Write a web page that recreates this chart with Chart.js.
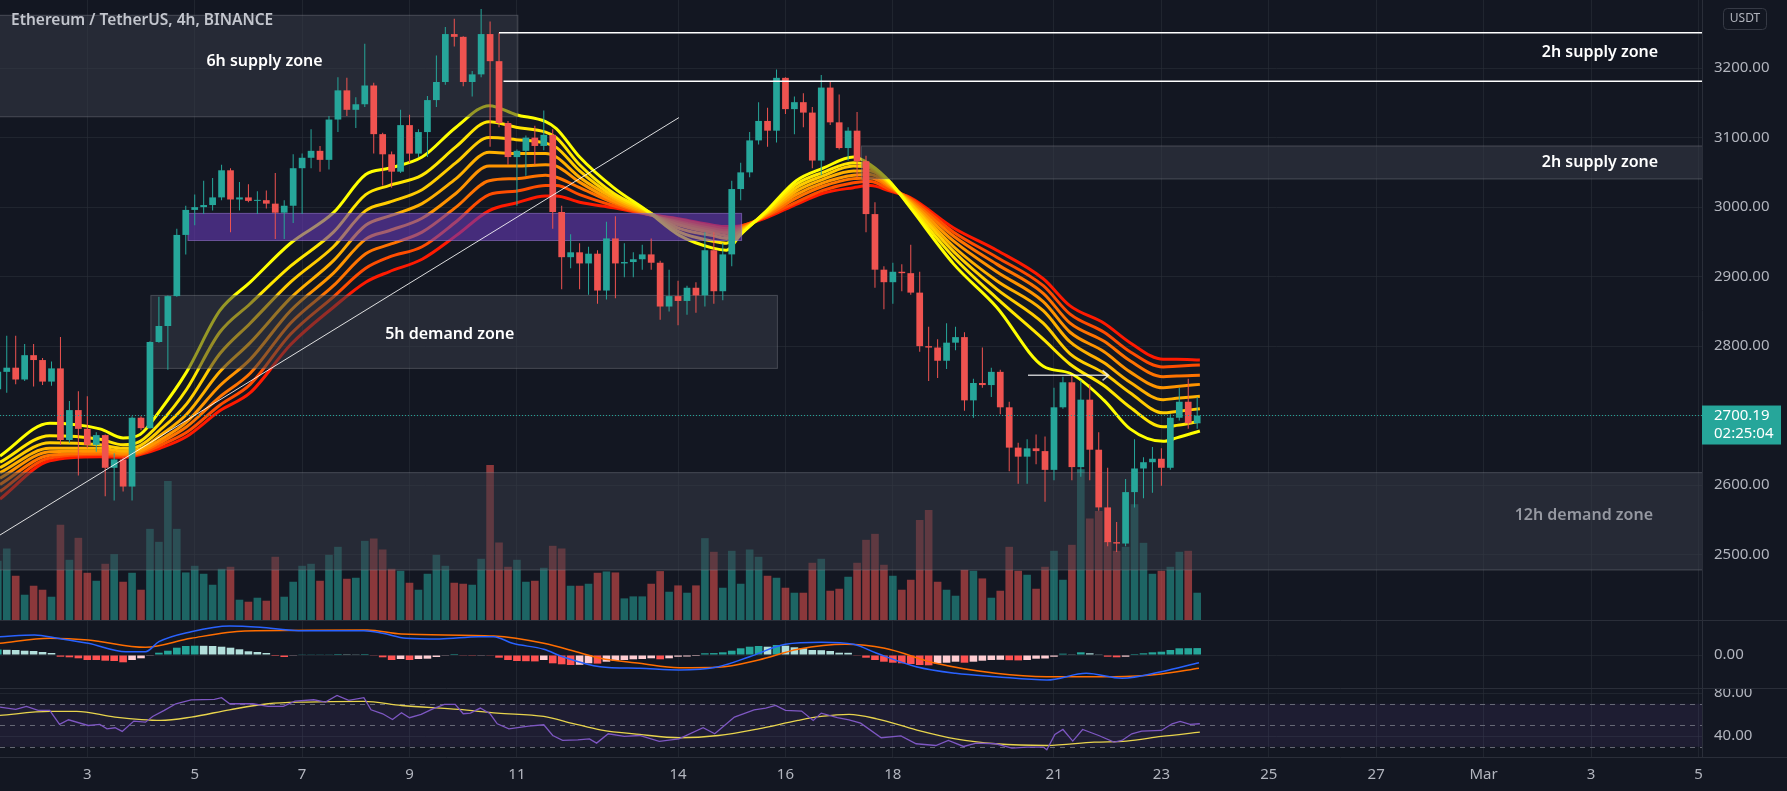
<!DOCTYPE html>
<html lang="en">
<head>
<meta charset="UTF-8">
<title>Ethereum / TetherUS, 4h, BINANCE</title>
<script src="https://cdn.jsdelivr.net/npm/chart.js"></script>
<style>
    body {
        margin: 0;
        background-color: #131722;
        overflow: hidden;
    }
    canvas {
        display: block;
    }
</style>
</head>
<body>
<canvas id="mainChart" width="1787" height="620"></canvas>
<canvas id="macdChart" width="1787" height="68"></canvas>
<canvas id="rsiChart" width="1787" height="103"></canvas>

<script>
// ---------- data (x = 4h candle index, 0 = Feb 1 00:00) ----------
const firstCandle = 2;

const tickDays = [3, 5, 7, 9, 11, 14, 16, 18, 21, 23, 25, 27, 29, 31, 33];
const tickLabels = ['3', '5', '7', '9', '11', '14', '16', '18', '21', '23', '25', '27', 'Mar', '3', '5'];
const priceTicks = [2500, 2600, 2700, 2800, 2900, 3000, 3100, 3200];
const macdTicks = [0];
const rsiTicks = [40, 80];

const opens = [2738,2763,2769,2752,2787,2780,2749,2768,2665,2708,
    2681,2658,2672,2625,2637,2598,2697,2682,2806,2829,
    2872,2960,2996,3000,3003,3014,3053,3011,3014,3009,
    3010,3005,2992,3002,3056,3071,3081,3068,3126,3168,
    3140,3148,3175,3105,3076,3051,3118,3077,3108,3154,
    3180,3249,3245,3180,3191,3249,3210,3121,3072,3081,
    3100,3088,3104,2993,2928,2935,2919,2933,2880,2955,
    2919,2921,2925,2932,2920,2857,2872,2865,2884,2873,
    2938,2879,2932,3026,3050,3096,3124,3110,3186,3141,
    3151,3136,3067,3172,3122,3085,3110,3066,2990,2910,
    2892,2907,2905,2877,2800,2798,2779,2805,2813,2722,
    2747,2744,2763,2712,2654,2641,2653,2649,2622,2712,
    2748,2626,2723,2651,2568,2518,2516,2590,2624,2633,
    2638,2625,2697,2720,2689];
const highs = [2768,2815,2815,2803,2803,2783,2778,2813,2721,2735,
    2728,2676,2673,2646,2640,2699,2699,2807,2871,2873,
    2969,3002,3018,3038,3042,3061,3056,3036,3033,3023,
    3024,3049,3010,3076,3077,3112,3088,3131,3187,3186,
    3158,3235,3179,3107,3080,3140,3133,3112,3160,3218,
    3259,3271,3246,3196,3285,3267,3251,3124,3083,3103,
    3117,3139,3112,3002,2961,2948,2943,2938,2979,2987,
    2948,2935,2946,2955,2923,2910,2894,2887,2892,2964,
    2964,2948,3038,3064,3108,3151,3143,3198,3187,3159,
    3164,3144,3190,3180,3162,3115,3137,3074,3007,2915,
    2920,2918,2946,2907,2828,2810,2833,2828,2820,2753,
    2798,2769,2766,2720,2661,2666,2673,2670,2740,2756,
    2758,2751,2745,2676,2625,2547,2609,2666,2640,2655,
    2653,2702,2740,2753,2727];
const lows = [2730,2733,2745,2750,2742,2744,2743,2658,2661,2614,
    2653,2648,2584,2578,2591,2578,2679,2681,2805,2766,
    2871,2932,2974,2990,2995,3010,2964,2995,3007,2990,
    2998,2954,2954,2977,2990,3056,3051,3054,3108,3131,
    3114,3144,3077,3031,3028,3049,3064,3072,3072,3144,
    3176,3231,3174,3159,3187,3087,3115,3061,3002,3045,
    3061,3082,2969,2882,2912,2882,2874,2861,2867,2869,
    2899,2899,2910,2910,2838,2850,2830,2845,2848,2857,
    2861,2866,2915,3010,3043,3090,3087,3093,3134,3105,
    3115,3056,3046,3118,3083,3067,3043,2964,2884,2853,
    2861,2879,2874,2792,2750,2754,2767,2794,2707,2697,
    2740,2727,2702,2620,2602,2602,2630,2576,2607,2710,
    2607,2612,2607,2563,2512,2504,2512,2568,2581,2589,
    2599,2622,2693,2681,2681];
const closes = [2763,2769,2752,2787,2780,2749,2768,2665,2708,2681,
    2658,2672,2625,2637,2598,2697,2682,2806,2829,2872,
    2960,2996,3000,3003,3014,3053,3011,3014,3009,3010,
    3005,2992,3002,3056,3071,3081,3068,3126,3168,3140,
    3148,3175,3105,3076,3051,3118,3077,3108,3154,3180,
    3249,3245,3180,3191,3249,3210,3121,3072,3081,3100,
    3088,3104,2993,2928,2935,2919,2933,2880,2955,2919,
    2921,2925,2932,2920,2857,2872,2865,2884,2873,2938,
    2879,2932,3026,3050,3096,3124,3110,3186,3141,3151,
    3136,3067,3172,3122,3085,3110,3066,2990,2910,2892,
    2907,2905,2877,2800,2798,2779,2805,2813,2722,2747,
    2744,2763,2712,2654,2641,2653,2649,2622,2712,2748,
    2626,2723,2651,2568,2518,2516,2590,2624,2633,2638,
    2625,2697,2720,2689,2700.19];
const volumes = [178,215,133,76,103,91,70,286,181,247,
    142,118,169,198,115,142,91,274,235,418,
    274,143,163,139,106,154,160,61,55,67,
    58,190,70,115,163,169,118,196,220,124,
    127,238,245,212,154,148,112,91,139,196,
    163,112,109,106,184,466,233,160,181,115,
    118,157,223,215,103,103,109,142,146,143,
    65,71,71,109,147,85,104,82,104,246,
    205,97,208,109,212,190,133,127,97,82,
    82,172,184,88,94,130,172,241,259,166,
    133,91,121,301,331,115,91,73,151,148,
    125,67,88,220,148,136,94,160,208,121,
    226,453,305,328,238,208,220,348,232,139,
    148,160,205,208,82];

// EMA ribbon, fastest (1) to slowest (8), read at these candle positions
const ribbonX = [2.25,7.8,13.4,16,17.9,20.1,23.1,26.8,30.2,34.7,39.5,43.1,45.7,49.4,53.2,56.9,59.9,63.2,64.4,67,
    70.8,74.5,78.2,81.9,83.4,84.9,87.9,91.2,94.2,97.6,99.5,101.7,103.9,108.8,113.6,118.8,121.8,125.6,128.5,132.2,133.7,136.3];
const ribbon1 = [2642,2689,2681,2668,2673,2707,2763,2851,2892,2948,2992,3047,3056,3072,3115,3146,3133,3123,3113,3072,3028,2995,2959,2941,2938,2959,2995,3038,3056,3072,3061,3036,3000,2918,2856,2771,2761,2722,2681,2663,2668,2678];
const ribbon2 = [2633,2671,2666,2658,2663,2689,2738,2820,2861,2915,2964,3018,3031,3046,3087,3123,3115,3108,3100,3061,3020,2995,2964,2951,2948,2961,2994,3033,3050,3064,3059,3035,3002,2928,2869,2810,2774,2743,2712,2684,2686,2692];
const ribbon3 = [2625,2661,2658,2653,2657,2679,2717,2789,2833,2892,2943,2995,3007,3025,3064,3100,3097,3092,3086,3052,3016,2994,2969,2959,2955,2964,2992,3028,3045,3059,3056,3033,3005,2936,2882,2833,2789,2761,2733,2704,2706,2710];
const ribbon4 = [2618,2653,2653,2649,2652,2671,2702,2763,2805,2869,2923,2974,2987,3005,3041,3079,3077,3077,3072,3043,3013,2992,2974,2963,2959,2966,2991,3023,3040,3052,3052,3032,3007,2943,2894,2851,2806,2776,2748,2723,2725,2728];
const ribbon5 = [2610,2648,2649,2646,2649,2665,2691,2743,2781,2851,2905,2954,2966,2984,3020,3059,3059,3061,3059,3036,3009,2991,2977,2966,2963,2968,2990,3018,3035,3046,3047,3030,3009,2951,2907,2864,2820,2792,2763,2740,2742,2745];
const ribbon6 = [2601,2643,2646,2644,2647,2661,2684,2727,2761,2833,2887,2933,2946,2964,3000,3038,3041,3046,3043,3028,3006,2990,2979,2969,2966,2970,2988,3013,3030,3041,3042,3028,3011,2958,2918,2876,2833,2807,2779,2756,2757,2758];
const ribbon7 = [2591,2639,2644,2642,2645,2657,2676,2715,2745,2817,2871,2912,2928,2943,2979,3018,3023,3031,3031,3018,3002,2990,2982,2972,2969,2972,2987,3007,3024,3035,3037,3025,3013,2964,2928,2887,2846,2820,2792,2770,2771,2773];
const ribbon8 = [2580,2635,2641,2640,2644,2653,2670,2707,2733,2802,2856,2892,2907,2925,2959,2995,3006,3016,3016,3007,2999,2990,2983,2974,2972,2973,2985,3004,3020,3028,3031,3023,3014,2970,2938,2897,2858,2833,2805,2781,2781,2780];

// MACD pane
const macdHist = [5.5,5.2,5,4.3,4,3,2,-1.7,-2.3,-3.3,
    -5,-5,-5.7,-6,-7.3,-5,-3.3,-0.7,2.3,4.3,
    7.3,9,9.3,9.2,9,8.3,7.3,5.7,3.7,3,
    2,-1,-2,-0.3,0.3,0.3,0.3,0.3,1,0.8,
    0.7,1,-0.7,-2.3,-5,-4,-5,-4,-3.7,-2,
    -0.3,1,-0.7,-0.8,-0.3,-0.7,-2.7,-5,-6,-6.2,
    -6.4,-5,-8.3,-9.3,-10,-9.8,-8.3,-8.6,-6.7,-5.7,
    -5,-4.3,-4,-3.3,-4.3,-3.3,-1.7,-1.5,-1,1.7,
    1.9,2.7,4.3,6.7,8.3,9,8.3,10,9.3,7.7,
    6.7,5,4.8,4,2.3,2.2,-0.7,-2.7,-5,-6.7,
    -7.7,-8.3,-9,-10,-10.3,-8.3,-7.7,-6.7,-7.7,-6.7,
    -5.7,-5,-4.8,-5.2,-5.4,-5,-3.7,-3.5,-1.7,1.3,
    0.7,2.7,1.7,0.7,-1.7,-2.3,-1.7,1,1.7,2.7,
    3.3,5,6.7,6.8,6.9];
const macdX = [2.2,6.1,8.7,12.1,16.3,18.5,20,23.6,27.9,31.3,35.6,42.9,45,47.6,51.4,55.7,57.4,59.5,63,65.1,
    69.3,73.7,78.1,82.5,86,90,94,97.6,100.2,104.6,109,113.5,119.2,123.6,127.6,132,136.2];
const macdLine = [18.3,20,16.7,11.7,3.3,3.3,13.3,23.3,29,27.7,24.3,24.3,21.7,16.7,16,18.3,18.3,11.7,5.7,-1.7,
    -11.7,-13.3,-15,-11.7,-1.7,10.7,12.7,10.7,1.7,-11.7,-18.3,-21.7,-25,-18.3,-23.3,-16.7,-7.7];
const signalX = [2.2,7.8,12.1,18.5,23.6,29.6,43.3,47.1,57.4,63,67.2,69.3,73.7,78.1,82.5,87,91.4,96.7,101.1,106.8,
    113.5,119.2,126.7,132,136.2];
const signalLine = [11.7,16.7,15,7.7,16.7,24,25,21,19,11.7,1.7,-3.3,-8.3,-12.7,-12.3,-5,5.7,10.7,6.7,-8.3,
    -18.3,-21.7,-21.7,-19,-13.3];

// RSI pane
const rsiX = [2.2,4,5.2,6.5,7.8,8.9,9.9,12.1,13.4,14.2,15.1,15.9,17.2,18.5,19.3,20.6,21.9,23.6,26.2,27,
    27.9,30.5,32.2,33.9,35.2,37.3,38.6,39.9,41.2,42.9,43.7,45,46.1,47.1,48,49.3,50.6,51.9,53.1,54,
    54.8,55.9,57,57.8,59.1,61.3,63,64,65.1,66.8,68.1,68.9,70.2,72,73.7,75.9,78.1,80.8,82.1,84.3,
    86.5,87.8,88.9,90,91.8,93.1,94,95.8,97.1,98.4,100.7,102.9,104.6,106.8,108.2,109.9,111.3,113.5,115.3,117,
    118.8,119.2,120.1,121,122.1,123.2,125,126.7,127.6,128.7,129.8,132,133.2,134.1,135.2,136.3];
const rsiValues = [66.9,64.7,67.5,63.8,63.8,50.8,55.1,49.8,50.8,46.7,47.7,44.3,53.9,52.9,58.2,63.8,70,73.7,74,75.6,
    70,70,67.5,67.5,72.5,73.7,71.6,77.8,73.1,75.6,64.4,60.7,55.4,61.6,57,60.1,65.3,69.4,69.4,60.7,
    61.3,66,60.7,51.4,46.7,49.2,50.5,40.5,35.9,36.5,37.4,33.4,42.1,39.6,40.5,35,37.4,47.7,42.1,57.6,
    64.4,66,68.4,63.8,63.2,54.5,61.3,57,55.1,52,38.4,40.2,32.8,31.2,35.9,30.3,33.4,32.8,28.8,29.7,
    29.7,27.2,41.5,46.1,35.3,46.1,40.5,34.3,35.9,42.1,44.6,45.2,51.4,53.6,50.8,51.4];
const rsiMaX = [2.2,7.8,10.8,15.1,20.2,23.6,27.9,32.2,36.4,42.9,47.1,53.5,57.8,63,66.4,69.3,73.7,78.1,82.5,87,
    91.4,94,97.1,100.2,104.6,109,113.5,119.2,124.5,128.1,132,136.3];
const rsiMa = [59.1,62.9,62.9,57.6,54.5,57.6,64.4,70,71.6,72.2,68.4,64.7,61.3,58.2,51.4,45.8,41.5,38.4,40.5,46.7,
    54.5,58.2,60.1,56,45.8,37.4,32.8,31.2,34.3,35.3,39.6,43.6];

// Drawn zones: [start index, end index], [top price, bottom price]
const zoneLabels = ['6h supply zone', '5h demand zone', '2h supply zone', '12h demand zone'];
const zoneStart = [-5, 19.1, 98.5, -5];
const zoneEnd = [60.1, 89.1, 200, 200];
const zoneTop = [3276, 2873, 3088, 2618];
const zoneBottom = [3130, 2768, 3040.5, 2478];
const zoneLabelX = [31.8, 52.5, 181, 179.2];
const zoneLabelY = [3210, 2817, 3065, 2556];

const flipZone = [23.25, 85.1, 2991, 2952];           // start, end, top, bottom
const supplyLineY = [3251, 3181];
const supplyLineStart = [58.0, 58.5];
const supplyLabel = ['2h supply zone', 181, 3222];
const trendX = [-6, 78.1];
const trendY = [2463, 3128.8];
const arrowX = [117.1, 126.1];
const arrowY = 2758;

// ---------- styling ----------
const viewStart = 2.246, viewEnd = 192.4;
const UP = '#26a69a', DOWN = '#ef5350';
const gridColor = 'rgba(42, 46, 57, 0.6)';
const textColor = '#b2b5be';
const fontFamily = "'Noto Sans', sans-serif";
const axisFont = { family: fontFamily, size: 15 };
const ribbonColors = ['#ffff00', '#ffe600', '#ffcc00', '#ffb000', '#ff9400', '#ff7300', '#ff4d00', '#ff1a00'];
const ribbons = [ribbon1, ribbon2, ribbon3, ribbon4, ribbon5, ribbon6, ribbon7, ribbon8];
const tickIndex = tickDays.map(d => (d - 1) * 6);
const candleX = opens.map((_, k) => firstCandle + k);
const isUp = k => closes[k] >= opens[k];

Chart.defaults.font.family = fontFamily;
Chart.defaults.animation = false;

function xScale(showLabels) {
    return {
        type: 'linear',
        min: viewStart,
        max: viewEnd,
        offset: false,
        grid: { color: gridColor, drawTicks: false, offset: false },
        border: { display: false },
        ticks: {
            display: showLabels,
            color: textColor,
            font: axisFont,
            padding: 9,
            maxRotation: 0,
            autoSkip: false,
            callback: (v, i) => tickLabels[i]
        },
        afterBuildTicks: s => { s.ticks = tickIndex.map(v => ({ value: v })); },
        afterFit: s => {
            s.paddingLeft = 0;
            s.paddingRight = 0;
            s.height = showLabels ? 34 : 0;
        }
    };
}

function yScale(min, max, ticks) {
    return {
        position: 'right',
        min: min,
        max: max,
        grid: { color: gridColor, drawTicks: false },
        border: { color: '#2a2e39' },
        ticks: { color: textColor, font: axisFont, padding: 12, callback: v => v.toFixed(2) },
        afterBuildTicks: s => { s.ticks = ticks.map(v => ({ value: v })); },
        afterFit: s => {
            s.width = 85;
            s.paddingTop = 0;
            s.paddingBottom = 0;
        }
    };
}

const baseOptions = {
    responsive: false,
    devicePixelRatio: 1,
    animation: false,
    layout: { padding: 0 },
    plugins: { legend: { display: false }, tooltip: { enabled: false } }
};

function paneBorder(chart) {
    const ctx = chart.ctx;
    ctx.save();
    ctx.strokeStyle = '#2a2e39';
    ctx.lineWidth = 1;
    ctx.beginPath();
    ctx.moveTo(0, 0.5);
    ctx.lineTo(chart.width, 0.5);
    ctx.stroke();
    ctx.restore();
}

// ---------- main pane ----------
function drawZones(chart) {
    const { ctx, chartArea: a, scales: { x, y } } = chart;
    ctx.save();
    ctx.beginPath();
    ctx.rect(a.left, a.top, a.width, a.height);
    ctx.clip();

    zoneStart.forEach((s, k) => {
        const x0 = x.getPixelForValue(s), x1 = x.getPixelForValue(zoneEnd[k]);
        const y0 = y.getPixelForValue(zoneTop[k]), y1 = y.getPixelForValue(zoneBottom[k]);
        ctx.fillStyle = 'rgba(57, 61, 72, 0.53)';
        ctx.fillRect(x0, y0, x1 - x0, y1 - y0);
        ctx.strokeStyle = 'rgba(149, 152, 161, 0.35)';
        ctx.lineWidth = 1;
        ctx.strokeRect(x0, y0, x1 - x0, y1 - y0);
    });

    const fx0 = x.getPixelForValue(flipZone[0]), fx1 = x.getPixelForValue(flipZone[1]);
    const fy0 = y.getPixelForValue(flipZone[2]), fy1 = y.getPixelForValue(flipZone[3]);
    ctx.fillStyle = 'rgba(103, 58, 183, 0.6)';
    ctx.fillRect(fx0, fy0, fx1 - fx0, fy1 - fy0);
    ctx.strokeStyle = 'rgba(149, 117, 205, 0.6)';
    ctx.strokeRect(fx0, fy0, fx1 - fx0, fy1 - fy0);
    ctx.restore();
}

function drawAnnotations(chart) {
    const { ctx, chartArea: a, scales: { x, y } } = chart;
    ctx.save();
    ctx.beginPath();
    ctx.rect(a.left, a.top, a.width, a.height);
    ctx.clip();

    // last price line
    const lastY = y.getPixelForValue(closes[closes.length - 1]);
    ctx.strokeStyle = UP;
    ctx.lineWidth = 1;
    ctx.setLineDash([1, 2]);
    ctx.beginPath();
    ctx.moveTo(a.left, lastY);
    ctx.lineTo(a.right, lastY);
    ctx.stroke();
    ctx.setLineDash([]);

    // trend line
    ctx.strokeStyle = 'rgba(255, 255, 255, 0.85)';
    ctx.beginPath();
    ctx.moveTo(x.getPixelForValue(trendX[0]), y.getPixelForValue(trendY[0]));
    ctx.lineTo(x.getPixelForValue(trendX[1]), y.getPixelForValue(trendY[1]));
    ctx.stroke();

    // upper 2h supply lines
    ctx.strokeStyle = '#ffffff';
    ctx.lineWidth = 1.5;
    supplyLineY.forEach((p, k) => {
        const yy = y.getPixelForValue(p);
        ctx.beginPath();
        ctx.moveTo(x.getPixelForValue(supplyLineStart[k]), yy);
        ctx.lineTo(a.right, yy);
        ctx.stroke();
    });

    // arrow
    const ax0 = x.getPixelForValue(arrowX[0]), ax1 = x.getPixelForValue(arrowX[1]);
    const ay = y.getPixelForValue(arrowY);
    ctx.strokeStyle = 'rgba(255, 255, 255, 0.75)';
    ctx.lineWidth = 1.5;
    ctx.beginPath();
    ctx.moveTo(ax0, ay);
    ctx.lineTo(ax1, ay);
    ctx.moveTo(ax1 - 6, ay - 5);
    ctx.lineTo(ax1, ay);
    ctx.lineTo(ax1 - 6, ay + 5);
    ctx.stroke();

    // labels
    ctx.font = `600 16px ${fontFamily}`;
    ctx.textAlign = 'center';
    ctx.textBaseline = 'middle';
    zoneLabels.forEach((t, k) => {
        ctx.fillStyle = t.startsWith('12h') ? '#9598a1' : '#ffffff';
        ctx.fillText(t, x.getPixelForValue(zoneLabelX[k]), y.getPixelForValue(zoneLabelY[k]));
    });
    ctx.fillStyle = '#ffffff';
    ctx.fillText(supplyLabel[0], x.getPixelForValue(supplyLabel[1]), y.getPixelForValue(supplyLabel[2]));
    ctx.restore();
}

function drawPriceTag(chart) {
    const { ctx, chartArea: a, scales: { y } } = chart;
    const last = closes[closes.length - 1];
    const py = y.getPixelForValue(last);
    ctx.save();
    ctx.fillStyle = UP;
    ctx.fillRect(a.right, py - 10, 79, 39);
    ctx.fillStyle = '#ffffff';
    ctx.font = `15px ${fontFamily}`;
    ctx.textAlign = 'left';
    ctx.textBaseline = 'middle';
    ctx.fillText(last.toFixed(2), a.right + 12, py);
    ctx.fillText('02:25:04', a.right + 12, py + 18);

    // title
    ctx.fillStyle = '#c3c6ce';
    ctx.font = `600 15.5px ${fontFamily}`;
    ctx.fillText('Ethereum / TetherUS, 4h, BINANCE', 11, 21);

    // currency box
    ctx.strokeStyle = '#363a45';
    ctx.lineWidth = 1;
    ctx.beginPath();
    ctx.roundRect(1723.5, 8.5, 43, 21, 4);
    ctx.stroke();
    ctx.fillStyle = textColor;
    ctx.font = `12px ${fontFamily}`;
    ctx.textAlign = 'center';
    ctx.fillText('USDT', 1745, 19);
    ctx.restore();
}

const WICK_DATASET = 1 + ribbons.length;

const mainOverlay = {
    id: 'mainOverlay',
    beforeDatasetDraw(chart, args) {
        if (args.index === WICK_DATASET) drawZones(chart);
    },
    afterDatasetsDraw(chart) {
        drawAnnotations(chart);
    },
    afterDraw(chart) {
        drawPriceTag(chart);
    }
};

const mainDatasets = [
    {
        type: 'bar',
        label: 'Volume',
        data: volumes.map((v, k) => ({ x: candleX[k], y: v })),
        yAxisID: 'yVol',
        grouped: false,
        order: 10,
        categoryPercentage: 0.85,
        barPercentage: 1,
        backgroundColor: c => isUp(c.dataIndex) ? 'rgba(38, 166, 154, 0.55)' : 'rgba(239, 83, 80, 0.55)'
    },
    ...ribbons.map((r, n) => ({
        type: 'line',
        label: 'EMA ' + (n + 1),
        data: r.map((v, k) => ({ x: ribbonX[k], y: v })),
        yAxisID: 'y',
        order: 5,
        borderColor: ribbonColors[n],
        borderWidth: 3,
        pointRadius: 0,
        cubicInterpolationMode: 'monotone',
        borderJoinStyle: 'round'
    })),
    {
        type: 'bar',
        label: 'Wick',
        data: highs.map((h, k) => ({ x: candleX[k], y: [lows[k], h] })),
        yAxisID: 'y',
        grouped: false,
        order: 1,
        categoryPercentage: 0.2,
        barPercentage: 1,
        maxBarThickness: 1,
        backgroundColor: c => isUp(c.dataIndex) ? UP : DOWN
    },
    {
        type: 'bar',
        label: 'Body',
        data: opens.map((o, k) => ({ x: candleX[k], y: [o, closes[k]] })),
        yAxisID: 'y',
        grouped: false,
        order: 0,
        categoryPercentage: 0.75,
        barPercentage: 1,
        minBarLength: 1,
        backgroundColor: c => isUp(c.dataIndex) ? UP : DOWN
    }
];

new Chart(document.getElementById('mainChart'), {
    type: 'bar',
    data: { datasets: mainDatasets },
    options: {
        ...baseOptions,
        scales: {
            x: xScale(false),
            y: yScale(2406, 3298, priceTicks),
            yVol: { display: false, min: 0, max: Math.max(...volumes) * 4 }
        }
    },
    plugins: [mainOverlay]
});

// ---------- MACD pane ----------
function histColor(k) {
    const v = macdHist[k];
    const p = k > 0 ? macdHist[k - 1] : v;
    if (v >= 0) return v >= p ? '#26a69a' : '#b2dfdb';
    return v <= p ? '#ff5252' : '#ffcdd2';
}

new Chart(document.getElementById('macdChart'), {
    type: 'bar',
    data: {
        datasets: [
            {
                type: 'bar',
                label: 'Histogram',
                data: macdHist.map((v, k) => ({ x: candleX[k], y: v })),
                grouped: false,
                order: 2,
                categoryPercentage: 0.85,
                barPercentage: 1,
                backgroundColor: c => histColor(c.dataIndex)
            },
            {
                type: 'line',
                label: 'MACD',
                data: macdLine.map((v, k) => ({ x: macdX[k], y: v })),
                order: 0,
                borderColor: '#2962ff',
                borderWidth: 1.5,
                pointRadius: 0,
                cubicInterpolationMode: 'monotone'
            },
            {
                type: 'line',
                label: 'Signal',
                data: signalLine.map((v, k) => ({ x: signalX[k], y: v })),
                order: 1,
                borderColor: '#ff6d00',
                borderWidth: 1.5,
                pointRadius: 0,
                cubicInterpolationMode: 'monotone'
            }
        ]
    },
    options: {
        ...baseOptions,
        scales: { x: xScale(false), y: yScale(-33, 35, macdTicks) }
    },
    plugins: [{ id: 'macdBorder', afterDraw: paneBorder }]
});

// ---------- RSI pane ----------
const rsiBands = {
    id: 'rsiBands',
    beforeDatasetsDraw(chart) {
        const { ctx, chartArea: a, scales: { y } } = chart;
        const y70 = y.getPixelForValue(70), y30 = y.getPixelForValue(30);
        ctx.save();
        ctx.fillStyle = 'rgba(126, 87, 194, 0.1)';
        ctx.fillRect(a.left, y70, a.width, y30 - y70);
        ctx.strokeStyle = 'rgba(120, 123, 134, 0.8)';
        ctx.lineWidth = 1;
        ctx.setLineDash([5, 5]);
        [70, 50, 30].forEach(v => {
            const yy = Math.round(y.getPixelForValue(v)) + 0.5;
            ctx.beginPath();
            ctx.moveTo(a.left, yy);
            ctx.lineTo(a.right, yy);
            ctx.stroke();
        });
        ctx.restore();
    },
    afterDraw(chart) {
        paneBorder(chart);
        const ctx = chart.ctx;
        const b = Math.round(chart.chartArea.bottom) + 0.5;
        ctx.save();
        ctx.strokeStyle = '#2a2e39';
        ctx.beginPath();
        ctx.moveTo(0, b);
        ctx.lineTo(chart.width, b);
        ctx.stroke();
        ctx.restore();
    }
};

new Chart(document.getElementById('rsiChart'), {
    type: 'line',
    data: {
        datasets: [
            {
                label: 'RSI',
                data: rsiValues.map((v, k) => ({ x: rsiX[k], y: v })),
                borderColor: '#7e57c2',
                borderWidth: 1.3,
                pointRadius: 0
            },
            {
                label: 'RSI MA',
                data: rsiMa.map((v, k) => ({ x: rsiMaX[k], y: v })),
                borderColor: '#e8d44d',
                borderWidth: 1.3,
                pointRadius: 0,
                cubicInterpolationMode: 'monotone'
            }
        ]
    },
    options: {
        ...baseOptions,
        scales: { x: xScale(true), y: yScale(20.5, 84.65, rsiTicks) }
    },
    plugins: [rsiBands]
});
</script>
</body>
</html>
